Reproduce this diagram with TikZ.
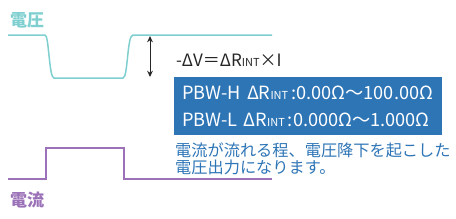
\documentclass[tikz,border=0pt]{standalone}
\usepackage{fontspec}
\setmainfont{Noto Sans CJK JP}
\usetikzlibrary{arrows.meta,positioning}
\definecolor{voltcyan}{HTML}{7FCFD0}
\definecolor{currpurple}{HTML}{9B72B8}
\definecolor{boxblue}{HTML}{2E75B6}
\newcommand{\rint}{ΔR{\fontsize{11}{11}\selectfont INT}}
\tikzset{
    wavelabel/.style={inner sep=0pt,font=\fontsize{17}{17}\selectfont\bfseries},
    voltwave/.style={voltcyan,line width=1.5pt},
    currwave/.style={currpurple,line width=1.4pt},
    droparrow/.style={{Stealth[length=2.2mm,width=2mm]}-{Stealth[length=2.2mm,width=2mm]},line width=1pt,black!85},
    formula/.style={inner sep=0pt,anchor=west,font=\fontsize{17}{17}\selectfont,black!85},
    rangebox/.style={fill=boxblue,text=white,anchor=north west,align=left,inner xsep=8pt,
        text width=252pt,minimum height=58pt,font=\fontsize{18.2}{27}\selectfont},
    notetext/.style={inner sep=0pt,anchor=north west,align=left,text=boxblue,font=\fontsize{16.2}{17}\selectfont}
}
\begin{document}
\begin{tikzpicture}[x=1pt,y=-1pt]
    \useasboundingbox (0,0) rectangle (456,218);
    % waveforms
    \draw[voltwave] (8,35) -- (45,35) .. controls (49,35) and (49,78) .. (54,78) -- (123,78)
        .. controls (128,78) and (127,35) .. (133,35) -- (272,35);
    \draw[currwave] (8,179) -- (46,179) -- (46,148) -- (124,148) -- (124,179) -- (272,179);
    \node[wavelabel,text=voltcyan] (vlabel) at (27,20) {電圧};
    \node[wavelabel,text=currpurple] (clabel) at (27,200) {電流};
    % drop
    \coordinate (vtop) at (150,36);
    \coordinate (vbot) at (150,77);
    \draw[droparrow] (vtop) -- (vbot);
    \node[formula] (eq) at (176,60) {-ΔV＝\rint×I};
    \node[rangebox] (range) at (174,77) {PBW-H \rint\,:0.00Ω〜100.00Ω\\PBW-L \rint\,:0.000Ω〜1.000Ω};
    \node[notetext,below=7pt of range.south west,anchor=north west,xshift=1pt] (note) {電流が流れる程、電圧降下を起こした\\電圧出力になります。};
\end{tikzpicture}
\end{document}
